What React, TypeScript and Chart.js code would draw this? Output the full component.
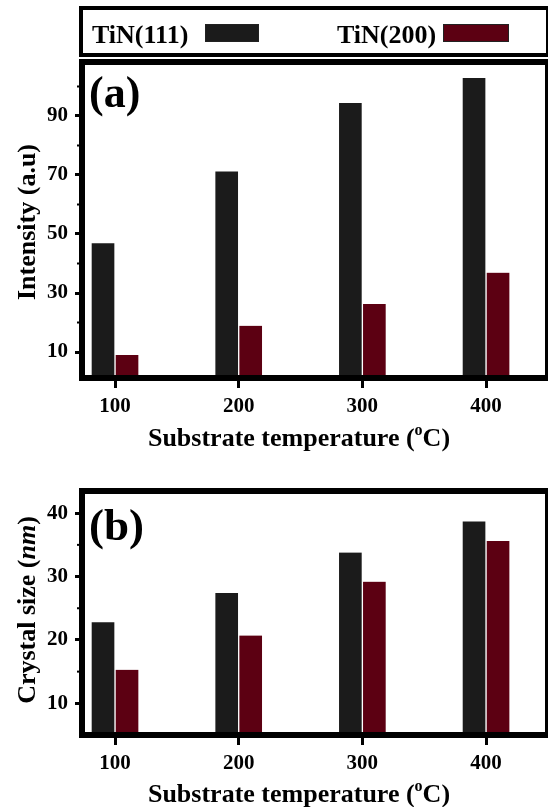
import React, { useEffect, useRef } from 'react';
import { Chart, registerables } from 'chart.js';

Chart.register(...registerables);

// ---------------- data ----------------
const temperatures = [100, 200, 300, 400];
const seriesLabels = ['TiN(111)', 'TiN(200)'];
const intensity111 = [46.9, 71.2, 94.4, 102.9];
const intensity200 = [9.0, 18.9, 26.3, 36.9];
const size111 = [22.8, 27.4, 33.8, 38.7];
const size200 = [15.3, 20.7, 29.2, 35.6];
const xTickValues = [100, 200, 300, 400];
const intensityMajorTicks = [10, 30, 50, 70, 90];
const intensityMinorTicks = [20, 40, 60, 80, 100];
const sizeMajorTicks = [10, 20, 30, 40];
const sizeMinorTicks = [15, 25, 35];

const SERIES_COLORS = ['#1b1b1b', '#5c0012'];
const SERIF = '"Liberation Serif", "Times New Roman", serif';

type Part = { text: string; font: string; rise?: number };

function drawRich(ctx: CanvasRenderingContext2D, parts: Part[], x: number, y: number) {
  let total = 0;
  for (const p of parts) {
    ctx.font = p.font;
    total += ctx.measureText(p.text).width;
  }
  let cx = x - total / 2;
  ctx.textAlign = 'left';
  ctx.textBaseline = 'alphabetic';
  for (const p of parts) {
    ctx.font = p.font;
    ctx.fillText(p.text, cx, y - (p.rise || 0));
    cx += ctx.measureText(p.text).width;
  }
}

const B26 = `bold 26px ${SERIF}`;
const xTitleParts: Part[] = [
  { text: 'Substrate temperature (', font: B26 },
  { text: 'o', font: `bold 16px ${SERIF}`, rise: 11 },
  { text: 'C)', font: B26 },
];

const decoPlugin = {
  id: 'deco',
  afterDraw(chart: any, _args: any, opts: any) {
    const { ctx, chartArea: a } = chart;
    ctx.save();
    ctx.strokeStyle = '#000';
    ctx.fillStyle = '#000';
    // minor ticks
    const ys = chart.scales.y;
    ctx.lineWidth = 2;
    for (const v of opts.minorTicks) {
      const py = ys.getPixelForValue(v);
      ctx.beginPath();
      ctx.moveTo(a.left, py);
      ctx.lineTo(a.left - 5, py);
      ctx.stroke();
    }
    // frame
    ctx.lineWidth = 6;
    ctx.strokeRect(a.left, a.top, a.right - a.left, a.bottom - a.top);
    // panel label
    ctx.font = `bold ${opts.panelSize}px ${SERIF}`;
    ctx.textAlign = 'left';
    ctx.textBaseline = 'alphabetic';
    ctx.fillText(opts.panel, a.left + 7, opts.panelBaseline);
    // y title (rotated)
    ctx.save();
    ctx.translate(opts.yTitleX, opts.yTitleY);
    ctx.rotate(-Math.PI / 2);
    drawRich(ctx, opts.yTitle, 0, 0);
    ctx.restore();
    // x title
    drawRich(ctx, xTitleParts, opts.xTitleX, opts.xTitleBaseline);
    // legend
    if (opts.legend) {
      ctx.lineWidth = 4;
      ctx.strokeRect(81, 8, 467, 47);
      const textX = [92, 337];
      const swX = [205, 443];
      const swW = [54, 66];
      chart.data.datasets.forEach((ds: any, i: number) => {
        ctx.fillStyle = '#000';
        ctx.font = B26;
        ctx.textAlign = 'left';
        ctx.fillText(ds.label, textX[i], 43);
        ctx.fillStyle = ds.backgroundColor;
        ctx.fillRect(swX[i], 24, swW[i], 18);
        ctx.lineWidth = 1;
        ctx.strokeStyle = '#222';
        ctx.strokeRect(swX[i] + 0.5, 24.5, swW[i] - 1, 17);
      });
    }
    ctx.restore();
  },
};

function makeConfig(
  v111: number[],
  v200: number[],
  yMin: number,
  yMax: number,
  majors: number[],
  deco: any,
  padTop: number,
  xHeight: number
) {
  const tickFont = { family: SERIF, size: 21, weight: 'bold' as const };
  return {
    type: 'bar' as const,
    data: {
      datasets: [v111, v200].map((vals, i) => ({
        label: seriesLabels[i],
        data: temperatures.map((t, j) => ({ x: t, y: vals[j] })),
        backgroundColor: SERIES_COLORS[i],
        borderColor: '#ffffff',
        borderWidth: { left: 1, right: 1, top: 0, bottom: 0 },
        barThickness: 24,
      })),
    },
    options: {
      animation: false,
      responsive: false,
      devicePixelRatio: 1,
      layout: { padding: { top: padTop, right: 8, left: 0, bottom: 0 } },
      plugins: {
        legend: { display: false },
        tooltip: { enabled: false },
        deco,
      },
      scales: {
        x: {
          type: 'linear',
          min: 73.3,
          max: 450.1,
          offset: false,
          afterBuildTicks: (s: any) => {
            s.ticks = xTickValues.map((v) => ({ value: v }));
          },
          afterFit: (s: any) => {
            s.height = xHeight;
          },
          grid: {
            offset: false,
            drawOnChartArea: false,
            drawTicks: true,
            tickLength: 10,
            tickWidth: 3,
            tickColor: '#000',
          },
          border: { display: false },
          ticks: { font: tickFont, color: '#000', padding: 6, maxRotation: 0, autoSkip: false },
        },
        y: {
          type: 'linear',
          min: yMin,
          max: yMax,
          afterBuildTicks: (s: any) => {
            s.ticks = majors.map((v) => ({ value: v }));
          },
          afterFit: (s: any) => {
            s.width = 82;
          },
          grid: { drawOnChartArea: false, drawTicks: true, tickLength: 7, tickWidth: 3, tickColor: '#000' },
          border: { display: false },
          ticks: { font: tickFont, color: '#000', padding: 7, autoSkip: false },
        },
      },
    },
    plugins: [decoPlugin],
  };
}

function ChartCanvas({ config, width, height, top }: any) {
  const ref = useRef<HTMLCanvasElement | null>(null);
  useEffect(() => {
    if (!ref.current) return;
    const chart = new Chart(ref.current, config as any);
    return () => chart.destroy();
  }, []);
  return (
    <canvas
      ref={ref}
      width={width}
      height={height}
      style={{ position: 'absolute', left: 0, top, width, height, display: 'block' }}
    />
  );
}

export default function App() {
  const configA = makeConfig(
    intensity111,
    intensity200,
    1.19,
    108.3,
    intensityMajorTicks,
    {
      minorTicks: intensityMinorTicks,
      panel: '(a)',
      panelSize: 44,
      panelBaseline: 107,
      yTitle: [{ text: 'Intensity (a.u)', font: B26 }],
      yTitleX: 35,
      yTitleY: 222,
      xTitleX: 299,
      xTitleBaseline: 446,
      legend: true,
    },
    62,
    82
  );
  const configB = makeConfig(
    size111,
    size200,
    5.0,
    43.5,
    sizeMajorTicks,
    {
      minorTicks: sizeMinorTicks,
      panel: '(b)',
      panelSize: 45,
      panelBaseline: 80,
      yTitle: [
        { text: 'Crystal size (', font: B26 },
        { text: 'nm', font: `italic bold 26px ${SERIF}` },
        { text: ')', font: B26 },
      ],
      yTitleX: 35,
      yTitleY: 150,
      xTitleX: 299,
      xTitleBaseline: 342,
      legend: false,
    },
    31,
    72
  );
  return (
    <div
      style={{
        position: 'fixed',
        left: 0,
        top: 0,
        width: 548,
        height: 807,
        overflow: 'hidden',
        background: '#fff',
      }}
    >
      <ChartCanvas config={configA} width={556} height={460} top={0} />
      <ChartCanvas config={configB} width={556} height={347} top={460} />
    </div>
  );
}
